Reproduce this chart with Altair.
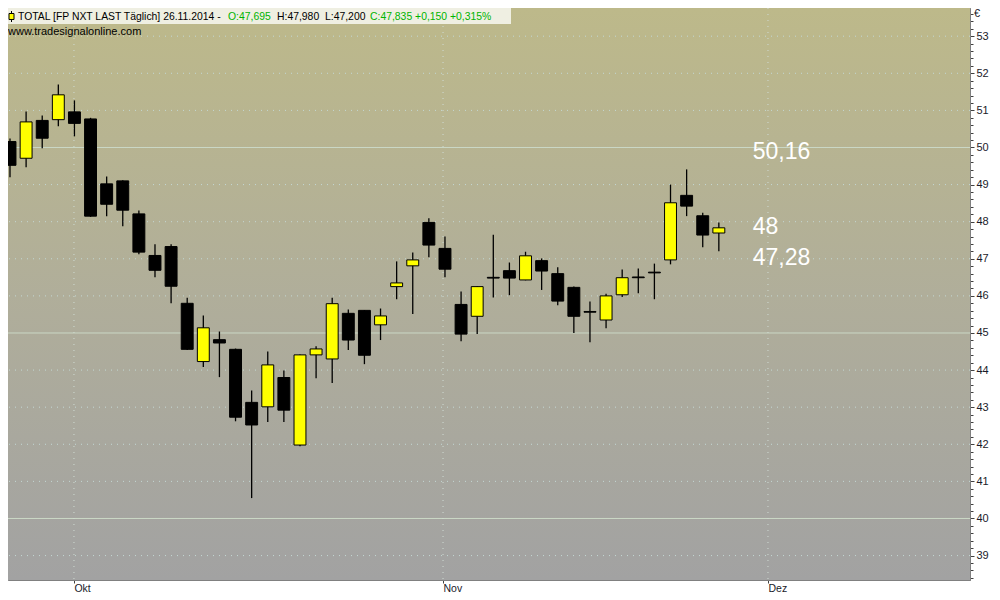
import altair as alt
import pandas as pd

# ---------------- data ----------------
IDX = list(range(45))
OPEN = [50.16, 49.71, 50.73, 50.75, 50.96, 50.77, 49.02, 49.10, 48.21, 47.09,
        47.33, 45.80, 44.23, 44.82, 44.56, 43.13, 43.01, 43.80, 41.98, 44.41,
        44.30, 45.53, 45.61, 45.22, 46.25, 46.81, 47.98, 47.28, 45.77, 45.45,
        46.50, 46.68, 46.43, 46.95, 46.60, 46.23, 45.58, 45.35, 46.03, 46.51,
        46.64, 46.97, 48.71, 48.16, 47.695]
HIGH = [50.24, 50.97, 50.86, 51.70, 51.27, 50.80, 49.22, 49.12, 48.30, 47.39,
        47.39, 45.95, 45.47, 45.04, 44.58, 43.45, 44.50, 43.99, 44.42, 44.64,
        45.95, 45.63, 45.62, 45.66, 46.93, 47.17, 48.09, 47.60, 46.12, 46.26,
        47.65, 46.90, 47.19, 47.01, 46.77, 46.25, 45.85, 46.06, 46.71, 46.74,
        46.87, 49.00, 49.41, 48.24, 47.98]
LOW = [49.20, 49.47, 49.98, 50.57, 50.30, 48.13, 48.15, 47.88, 47.12, 46.50,
       45.80, 44.54, 44.08, 43.81, 42.62, 40.55, 42.60, 42.60, 41.95, 43.78,
       43.65, 44.54, 44.16, 44.81, 45.91, 45.51, 47.04, 46.50, 44.78, 44.97,
       45.96, 46.02, 46.42, 46.16, 45.75, 45.00, 44.75, 45.13, 45.97, 46.07,
       45.91, 46.85, 48.15, 47.31, 47.20]
CLOSE = [49.52, 50.69, 50.25, 51.42, 50.65, 48.15, 48.47, 48.31, 47.18, 46.69,
         46.26, 44.56, 45.14, 44.73, 42.73, 42.52, 44.14, 42.92, 44.41, 44.57,
         45.79, 44.81, 44.40, 45.46, 46.35, 46.97, 47.37, 46.72, 44.97, 46.25,
         46.48, 46.48, 47.08, 46.67, 45.86, 45.45, 45.56, 46.00, 46.49, 46.49,
         46.62, 48.51, 48.42, 47.64, 47.835]

MONTH_TICKS = [3.97, 26.88, 47.05]
MONTH_NAMES = ["Okt", "Nov", "Dez"]

GRID_DOTTED = [39, 41, 42, 43, 44, 46, 47, 48, 49, 51, 52, 53]
GRID_SOLID = [40, 45, 50]

LEVEL_LABELS = ["50,16", "48", "47,28"]
LEVEL_VALUES = [50.16, 48.0, 47.28]
LEVEL_X = 46.1

HEADER_TEXTS = ["TOTAL [FP NXT LAST Täglich] 26.11.2014 -", "O:47,695", "H:47,980",
                "L:47,200", "C:47,835 +0,150 +0,315%"]
HEADER_COLORS = ["#000000", "#00b400", "#000000", "#000000", "#00b400"]
HEADER_X = [10, 220, 269, 317, 362]
WEB_TEXT = "www.tradesignalonline.com"

# ---------------- layout / style ----------------
W, H = 962, 572
Y_MIN, Y_MAX = 38.342, 53.76
X_MIN, X_MAX = -0.124, 59.59
HALF = 0.37
FONT = "Liberation Sans"
LEVEL_DY = [-1, -6, -1]

TICK_VALUES = [round(38.4 + 0.2 * k, 1) for k in range(77)]
INT_TEST = "abs(datum.value - round(datum.value)) < 0.01"

df = pd.DataFrame({"i": IDX, "open": OPEN, "high": HIGH, "low": LOW, "close": CLOSE})

x_scale = alt.Scale(domain=[X_MIN, X_MAX], nice=False, zero=False)
y_scale = alt.Scale(domain=[Y_MIN, Y_MAX], nice=False, zero=False)

month_expr = "".join(
    f"abs(datum.value - {t}) < 0.01 ? '{n}' : " for t, n in zip(MONTH_TICKS, MONTH_NAMES)
) + "''"

x_axis = alt.Axis(
    orient="bottom", values=MONTH_TICKS, labelExpr=month_expr, grid=False,
    tickSize=3, tickColor="#404040", domainColor="#808080", labelAlign="left",
    labelBaseline="top", labelPadding=0, labelFont=FONT, labelFontSize=10.5,
    labelColor="#1a1a2a", labelFlush=False, labelOverlap=False, title=None,
)
y_axis = alt.Axis(
    orient="right", values=TICK_VALUES,
    labelExpr=f"{INT_TEST} ? format(datum.value, 'd') : ''",
    tickSize={"condition": {"test": INT_TEST, "value": 4}, "value": 3},
    tickColor="#404040", domainColor="#808080", grid=False,
    labelFont=FONT, labelFontSize=11, labelColor="#1a1a2a", labelPadding=2,
    labelOverlap=False, labelBound=False, title=None,
)

one = pd.DataFrame({"a": [0]})

gradient = alt.LinearGradient(
    gradient="linear",
    stops=[alt.GradientStop(color="#bdb98a", offset=0),
           alt.GradientStop(color="#b0ae9a", offset=0.5),
           alt.GradientStop(color="#a2a2a2", offset=1)],
    x1=0, x2=0, y1=0, y2=1,
)
background = alt.Chart(one).mark_rect(color=gradient).encode(
    x=alt.value(0), x2=alt.value(W), y=alt.value(0), y2=alt.value(H)
)

grid_dot = alt.Chart(pd.DataFrame({"lvl": GRID_DOTTED})).mark_rule(
    color="#c4d8d4", strokeWidth=1, strokeDash=[1, 5]
).encode(y=alt.Y("lvl:Q", scale=y_scale, axis=y_axis))
grid_solid = alt.Chart(pd.DataFrame({"lvl": GRID_SOLID})).mark_rule(
    color="#cbd8c6", strokeWidth=1
).encode(y=alt.Y("lvl:Q", scale=y_scale, axis=y_axis))
grid_v = alt.Chart(pd.DataFrame({"m": MONTH_TICKS})).mark_rule(
    color="#d0dcd4", strokeWidth=1, strokeDash=[1, 5]
).encode(x=alt.X("m:Q", scale=x_scale, axis=x_axis))

wicks = alt.Chart(df).mark_rule(color="#000000", strokeWidth=1.3).encode(
    x=alt.X("i:Q", scale=x_scale, axis=x_axis),
    y=alt.Y("low:Q", scale=y_scale, axis=y_axis),
    y2="high:Q",
)
bodies = alt.Chart(df).transform_calculate(
    x0=f"datum.i - {HALF}", x1=f"datum.i + {HALF}",
    top="max(datum.open, datum.close)", bot="min(datum.open, datum.close)",
).mark_rect(stroke="#000000", strokeWidth=1).encode(
    x=alt.X("x0:Q", scale=x_scale, axis=x_axis),
    x2="x1:Q",
    y=alt.Y("top:Q", scale=y_scale, axis=y_axis),
    y2="bot:Q",
    fill=alt.condition("datum.close >= datum.open", alt.value("#ffff00"), alt.value("#000000")),
)

level_layers = []
for lab, val, dy in zip(LEVEL_LABELS, LEVEL_VALUES, LEVEL_DY):
    level_layers.append(
        alt.Chart(pd.DataFrame({"t": [lab], "v": [val], "x": [LEVEL_X]})).mark_text(
            align="left", baseline="top", dy=dy, font=FONT, fontSize=23, color="#ffffff"
        ).encode(
            x=alt.X("x:Q", scale=x_scale, axis=x_axis),
            y=alt.Y("v:Q", scale=y_scale, axis=y_axis),
            text="t:N",
        )
    )

header_bar = alt.Chart(one).mark_rect(color="#efefe2").encode(
    x=alt.value(0), x2=alt.value(503), y=alt.value(0), y2=alt.value(16)
)
icon_wick = alt.Chart(one).mark_rule(color="#000000", strokeWidth=1).encode(
    x=alt.value(3.5), y=alt.value(3), y2=alt.value(14)
)
icon_body = alt.Chart(one).mark_rect(color="#ffff00", stroke="#000000", strokeWidth=1).encode(
    x=alt.value(1), x2=alt.value(6), y=alt.value(5.5), y2=alt.value(11.5)
)
header = alt.Chart(pd.DataFrame({"t": HEADER_TEXTS, "c": HEADER_COLORS, "px": HEADER_X})).mark_text(
    align="left", baseline="middle", font=FONT, fontSize=10.4
).encode(
    x=alt.X("px:Q", scale=None), y=alt.value(8.5), text="t:N", color=alt.Color("c:N", scale=None)
)
web = alt.Chart(one).mark_text(
    align="left", baseline="middle", font=FONT, fontSize=11, color="#000000", text=WEB_TEXT
).encode(x=alt.value(0), y=alt.value(24))
euro = alt.Chart(one).mark_text(
    align="left", baseline="top", font=FONT, fontSize=11, color="#1a1a2a", text="€"
).encode(x=alt.value(966), y=alt.value(0))

chart = alt.layer(
    background, grid_dot, grid_solid, grid_v, wicks, bodies, *level_layers,
    header_bar, icon_wick, icon_body, header, web, euro,
).properties(
    width=W, height=H,
    autosize=alt.AutoSizeParams(type="none"),
    padding={"left": 0, "top": 0, "right": 22, "bottom": 12},
    background="#ffffff",
).configure_view(stroke="#808080", strokeWidth=1)

chart.save("out.html", embed_options={"renderer": "svg", "actions": False})
